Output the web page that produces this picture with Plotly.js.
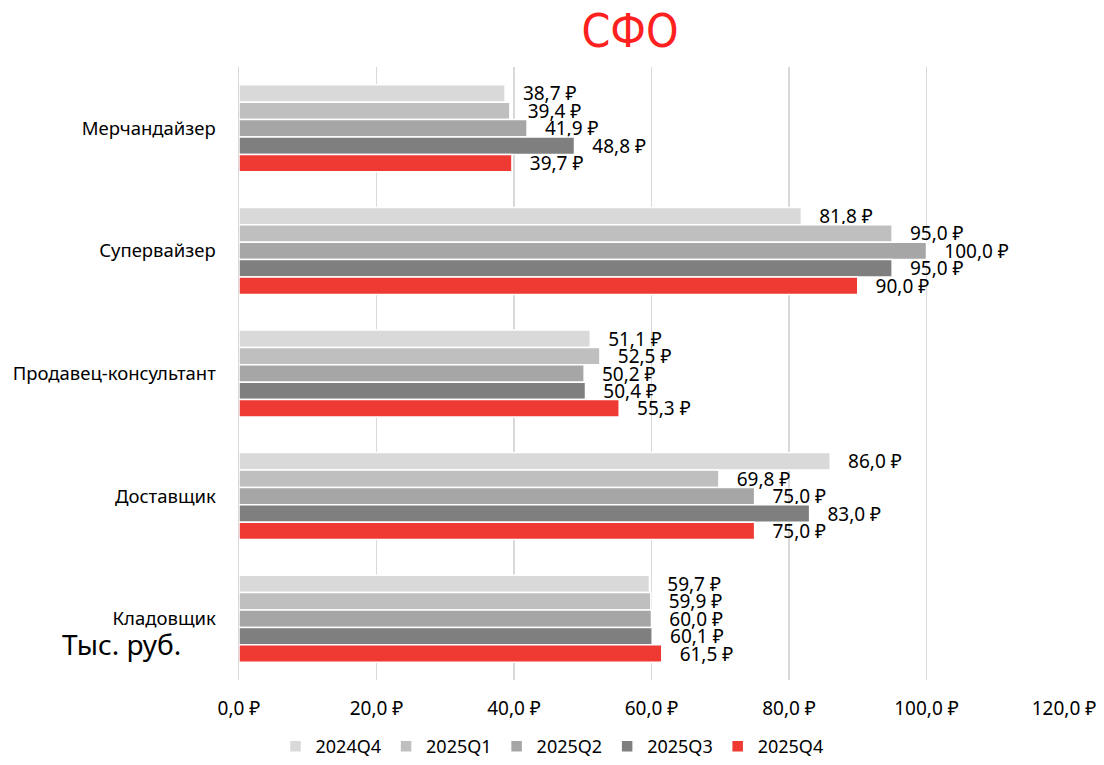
<!DOCTYPE html>
<html><head><meta charset="utf-8">
<script src="https://cdn.plot.ly/plotly-3.0.1.min.js"></script>
<style>body{margin:0;background:#fff}#c{width:1104px;height:765px}</style>
</head><body><div id="c"></div>
<script>
const categories = ["Мерчандайзер","Супервайзер","Продавец-консультант","Доставщик","Кладовщик"];
const seriesNames = ["2024Q4","2025Q1","2025Q2","2025Q3","2025Q4"];
const v2024Q4 = [38.7, 81.8, 51.1, 86.0, 59.7];
const v2025Q1 = [39.4, 95.0, 52.5, 69.8, 59.9];
const v2025Q2 = [41.9, 100.0, 50.2, 75.0, 60.0];
const v2025Q3 = [48.8, 95.0, 50.4, 83.0, 60.1];
const v2025Q4 = [39.7, 90.0, 55.3, 75.0, 61.5];
const seriesValues = [v2024Q4, v2025Q1, v2025Q2, v2025Q3, v2025Q4];
const colors = ["#D9D9D9","#BFBFBF","#A6A6A6","#7F7F7F","#EE3A33"];
const FONT = "Noto Sans, Liberation Sans, Arial, sans-serif";
const fmt = v => '\u00A0\u00A0\u00A0' + v.toFixed(1).replace('.', ',') + ' ₽';

const traces = seriesValues.map((vals, i) => ({
  type: 'bar', orientation: 'h', name: seriesNames[i],
  x: vals, y: categories,
  marker: {color: colors[i], line: {color: '#ffffff', width: 1.5}},
  text: vals.map(fmt), textposition: 'outside', cliponaxis: false, constraintext: 'none',
  textfont: {family: FONT, size: 19, color: '#000000'},
  hoverinfo: 'x+name'
}));

const layout = {
  width: 1104, height: 765,
  margin: {l: 239, r: 40, t: 67, b: 85},
  paper_bgcolor: '#fff', plot_bgcolor: '#fff',
  barmode: 'group', bargap: 0.29, bargroupgap: 0,
  separators: ', ',
  font: {family: FONT, size: 17.5, color: '#000'},
  title: {text: 'СФО', font: {family: 'Liberation Sans Narrow, DejaVu Sans Condensed, sans-serif', size: 46, color: '#FF2020'},
          x: 630/1104, xanchor: 'center', xref: 'container', y: 1 - 31/765, yref: 'container', yanchor: 'middle'},
  xaxis: {range: [0, 120], dtick: 20, tickformat: '.1f', ticksuffix: ' ₽',
          showgrid: true, gridcolor: '#D9D9D9', gridwidth: 1.5, zeroline: false,
          showline: false, ticks: '', ticklabelstandoff: 15,
          tickfont: {family: FONT, size: 19, color: '#000'}},
  yaxis: {autorange: 'reversed', type: 'category', showgrid: false, zeroline: false,
          showline: true, linecolor: '#D9D9D9', linewidth: 1.5, ticks: '',
          ticklabelstandoff: 18, tickfont: {family: FONT, size: 18.5, color: '#000'}},
  legend: {orientation: 'h', x: 0.5, xanchor: 'center', xref: 'container', y: 0, yref: 'container', yanchor: 'bottom',
           font: {family: FONT, size: 18, color: '#000'}, itemwidth: 30, traceorder: 'normal'},
  annotations: [{text: 'Тыс. руб.', xref: 'paper', yref: 'paper', x: -0.068, y: 0.058, xanchor: 'right', yanchor: 'middle',
                 showarrow: false, font: {family: FONT, size: 28, color: '#000'}}],
  showlegend: true
};
Plotly.newPlot('c', traces, layout, {displayModeBar: false, staticPlot: true});
</script></body></html>
